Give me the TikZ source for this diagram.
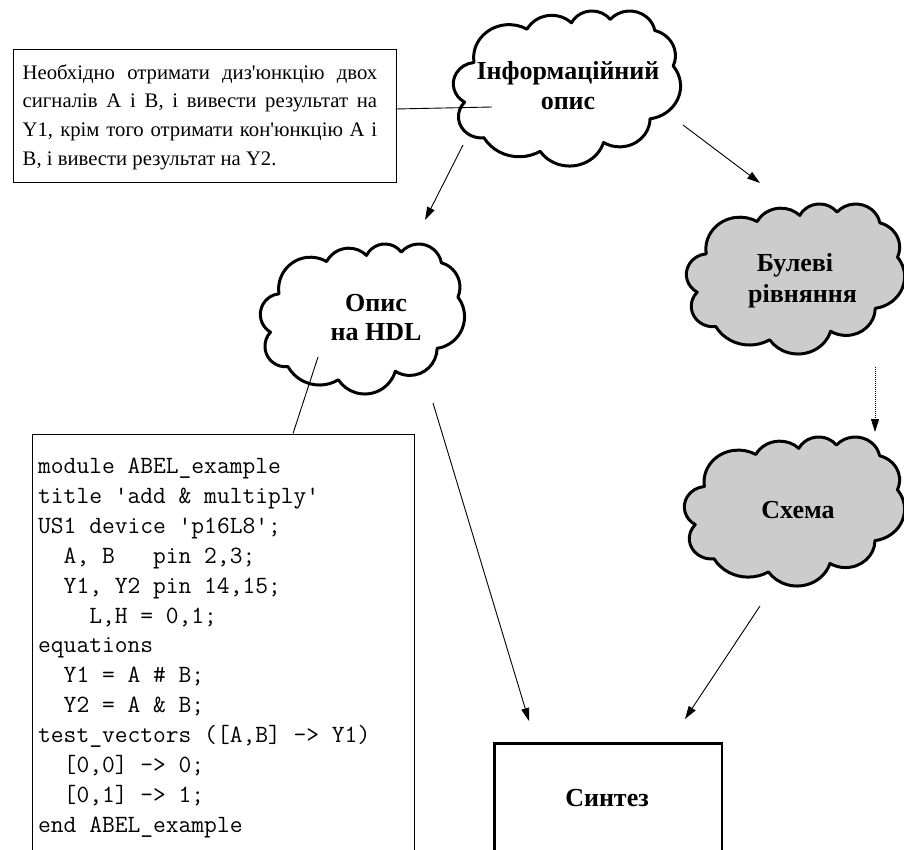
\documentclass[tikz,border=0pt]{standalone}
\usepackage{fontspec}
\setmainfont{Liberation Serif}
\usetikzlibrary{arrows.meta}

% Word-style cloud outline: #1 left, #2 top, #3 width, #4 height, #5 extra style
\newcommand\wordcloud[5]{%
  \begin{scope}[shift={(#1,#2)}, xscale=#3/4320, yscale=#4/4320]
    \draw[cloudline,#5] (390,1437)
      arc[start angle=-187.747, end angle=-59.634, x radius=675.3pt, y radius=919pt]
      arc[start angle=-152.023, end angle=-45.454, x radius=533.3pt, y radius=726.7pt]
      arc[start angle=-153.489, end angle=-37.330, x radius=436.5pt, y radius=594.5pt]
      arc[start angle=-139.714, end angle=-10.212, x radius=485.7pt, y radius=659.5pt]
      arc[start angle=-74.768, end angle=23.210, x radius=533.3pt, y radius=727.3pt]
      arc[start angle=-37.527, end angle=81.862, x radius=677.5pt, y radius=922pt]
      arc[start angle=0.460, end angle=121.976, x radius=578.5pt, y radius=786.7pt]
      arc[start angle=16.845, end angle=146.237, x radius=675.2pt, y radius=921.5pt]
      arc[start angle=58.989, end angle=150.185, x radius=772pt, y radius=1054.3pt]
      arc[start angle=-276.694, end angle=-136.894, x radius=436pt, y radius=591.8pt]
      arc[start angle=-239.646, end angle=-95.887, x radius=434.5pt, y radius=594.5pt]
      -- cycle;
  \end{scope}}
\newcommand\justline[1]{\makebox[354.5pt][s]{#1}}

\begin{document}
\begin{tikzpicture}[yscale=-1, x=1pt, y=1pt,
  cloudline/.style={line width=3pt, line join=round},
  ctext/.style={font=\fontsize{26}{30}\selectfont\bfseries, anchor=base, inner sep=0pt},
  btext/.style={font=\fontsize{20.7}{28}\selectfont, anchor=base west, inner sep=0pt},
  codeline/.style={font=\fontsize{24.8}{30}\selectfont\ttfamily, anchor=base west, inner sep=0pt},
  conn/.style={line width=0.9pt},
  arr/.style={conn, -{Triangle[length=13pt,width=8pt]}},
  greyfill/.style={fill=black!20}]

\useasboundingbox (0,0) rectangle (904,850);
\clip (0,0) rectangle (904,850);

% ---- description box
\node[draw, line width=1pt, anchor=north west, minimum width=383pt, minimum height=133pt, inner sep=0pt] (desc) at (12.5,49.5) {};
\node[btext] (d1) at (22.5,79.3) {\justline{Необхідно отримати диз\textquotesingle юнкцію двох}};
\node[btext] (d2) at (22.5,108) {\justline{сигналів A і B, і вивести результат на}};
\node[btext] (d3) at (22.5,136.7) {\justline{Y1, крім того отримати кон\textquotesingle юнкцію A і}};
\node[btext] (d4) at (22.5,165.3) {B, і вивести результат на Y2.};

% ---- clouds
\wordcloud{453.5}{10.5}{227}{155}{fill=white}
\node[ctext] (info1) at (568,80) {Інформаційний};
\node[ctext] (info2) at (568,110) {опис};

\wordcloud{260.5}{243.5}{204}{150}{fill=white}
\node[ctext] (hdl1) at (376,311) {Опис};
\node[ctext] (hdl2) at (376,340) {на HDL};

\wordcloud{686.5}{203.5}{218}{150}{greyfill}
\node[ctext] (bool1) at (795,272) {Булеві};
\node[ctext] (bool2) at (802.5,302) {рівняння};

\wordcloud{684.5}{436.5}{220}{149}{greyfill}
\node[ctext] (sch) at (798,518) {Схема};

% ---- code box
\node[draw, line width=1pt, anchor=north west, minimum width=382pt, minimum height=460pt, inner sep=0pt] (codebox) at (31.5,433.5) {};
\node[codeline] (c1) at (38,473) {module ABEL\_example};
\node[codeline] (c2) at (38,503) {title \textquotesingle add \& multiply\textquotesingle};
\node[codeline] (c3) at (38,533) {US1 device \textquotesingle p16L8\textquotesingle;};
\node[codeline] (c4) at (38,563) {\hphantom{xx}A, B\ \ \ pin 2,3;};
\node[codeline] (c5) at (38,593) {\hphantom{xx}Y1, Y2 pin 14,15;};
\node[codeline] (c6) at (38,623) {\hphantom{xxxx}L,H = 0,1;};
\node[codeline] (c7) at (38,652) {equations};
\node[codeline] (c8) at (38,682) {\hphantom{xx}Y1 = A \# B;};
\node[codeline] (c9) at (38,712) {\hphantom{xx}Y2 = A \& B;};
\node[codeline] (c10) at (38,742) {test\_vectors ([A,B] -> Y1)};
\node[codeline] (c11) at (38,772) {\hphantom{xx}[0,0] -> 0;};
\node[codeline] (c12) at (38,802) {\hphantom{xx}[0,1] -> 1;};
\node[codeline] (c13) at (38,832) {end ABEL\_example};

% ---- synthesis box
\node[draw, line width=2.5pt, anchor=north west, minimum width=227.5pt, minimum height=200pt, inner sep=0pt] (synbox) at (493.25,742.25) {};
\node[ctext] (syn) at (607,806) {Синтез};

% ---- connector end points
\coordinate (descend) at (395.5,109);
\coordinate (infoin) at (492,107);
\coordinate (hdlin) at (318,357);
\coordinate (codetop) at (293,433.5);
\coordinate (a1s) at (463,145);
\coordinate (a1e) at (425,220);
\coordinate (a2s) at (683,125);
\coordinate (a2e) at (760,183);
\coordinate (a3s) at (875,367);
\coordinate (a3e) at (875,432);
\coordinate (a4s) at (433,403);
\coordinate (a4e) at (529,721);
\coordinate (a5s) at (760,606);
\coordinate (a5e) at (685,719);

\draw[conn] (descend) -- (infoin);
\draw[conn] (hdlin) -- (codetop);
\draw[arr] (a1s) -- (a1e);
\draw[arr] (a2s) -- (a2e);
\draw[arr, dash pattern=on 1pt off 1pt] (a3s) -- (a3e);
\draw[arr] (a4s) -- (a4e);
\draw[arr] (a5s) -- (a5e);
\end{tikzpicture}
\end{document}
